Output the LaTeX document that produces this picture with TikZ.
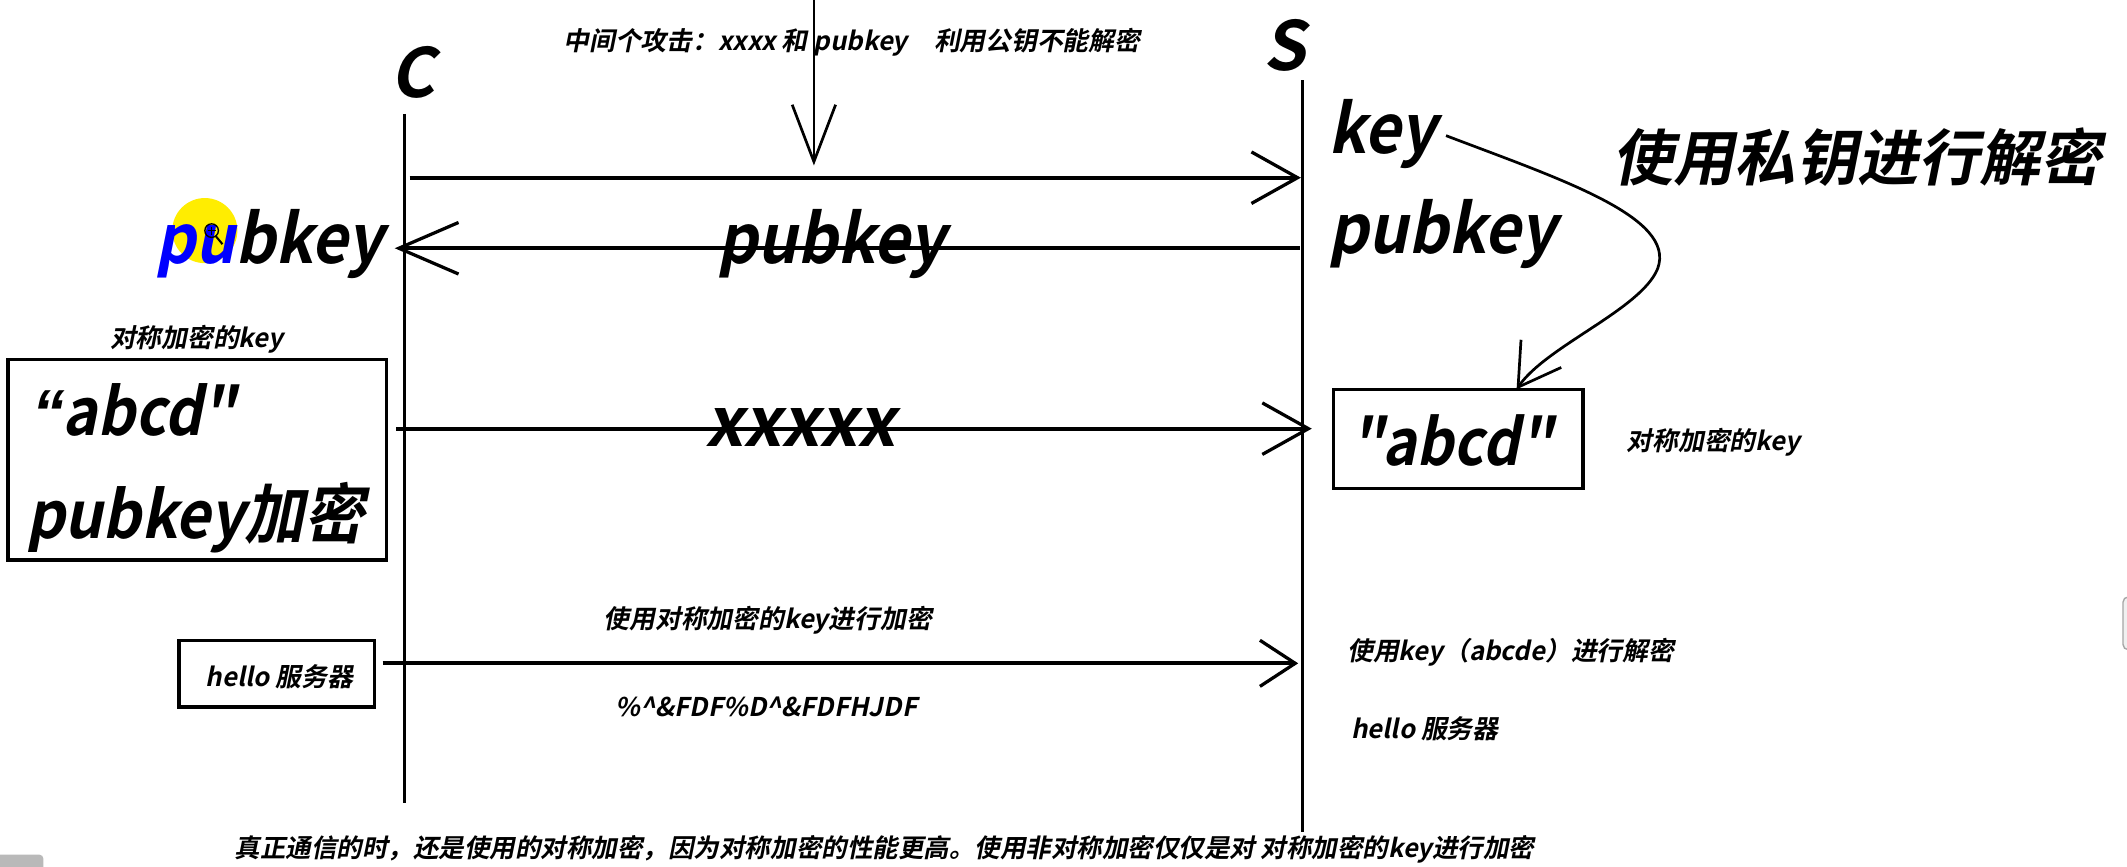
\documentclass[tikz,border=0pt]{standalone}
\usepackage{fontspec}
\setmainfont{Noto Sans CJK SC}[UprightFont=* Bold, FakeSlant=0.2]
\newfontfamily\narrowfont{Noto Sans CJK SC}[UprightFont=* Bold, FakeSlant=0.2, FakeStretch=0.92]
\newfontfamily\quotefont{Noto Sans CJK SC}[UprightFont=* Bold, FakeSlant=0.2, FakeStretch=0.9, Ligatures=TeXOff]
\newfontfamily\latinquote{Liberation Sans}
\usetikzlibrary{arrows.meta}
\tikzset{
  life/.style={line width=2.2pt},
  msg/.style={line width=3pt, -{Straight Barb[length=34pt,width=38pt,line width=2.4pt]}},
  boxed/.style={draw, line width=2.6pt, inner sep=0pt},
  smalltxt/.style={font=\fontsize{19}{22}\selectfont, inner sep=0pt},
  bigtxt/.style={font=\narrowfont\fontsize{50}{56}\selectfont, inner sep=0pt},
  lettertxt/.style={font=\fontsize{50}{56}\selectfont, inner sep=0pt},
  boxtxt/.style={font=\quotefont\fontsize{48}{54}\selectfont, inner sep=0pt},
}
\begin{document}
\begin{tikzpicture}[x=1pt,y=-1pt]
\useasboundingbox (0,0) rectangle (1568,639);
\fill[white] (0,0) rectangle (1568,639);

% screenshot artefacts
\fill[gray!55, rounded corners=3pt] (-6,630) rectangle (32,646);
\filldraw[fill=gray!12, draw=gray!70, line width=1pt, rounded corners=4pt] (1565,440) rectangle (1580,479);

% participants
\node[lettertxt, anchor=base] (C) at (304,72) {C};
\node[lettertxt, anchor=base] (S) at (947,52) {S};
\coordinate (Ctop) at (298,84); \coordinate (Cbot) at (298,592);
\coordinate (Stop) at (960,59); \coordinate (Sbot) at (960,613);
\draw[life] (Ctop) -- (Cbot);
\draw[life] (Stop) -- (Sbot);

% top attack note
\node[smalltxt, anchor=base] (attack) at (628,37) {中间个攻击：xxxx 和 pubkey\hspace{0.8em} 利用公钥不能解密};
\coordinate (atk0) at (600,-2); \coordinate (atk1) at (600,122);
\draw[line width=2pt, -{Straight Barb[length=42pt,width=32pt,line width=2pt]}] (atk0) -- (atk1);

% message 1: C -> S
\coordinate (m1a) at (302,131); \coordinate (m1b) at (959,131);
\draw[msg] (m1a) -- (m1b);

% message 2: S -> C pubkey
\coordinate (m2a) at (958,183); \coordinate (m2b) at (291,183);
\draw[line width=3pt, -{Straight Barb[length=44pt,width=38pt,line width=2.4pt]}] (m2a) -- (m2b);
\node[bigtxt, anchor=base] (pkmid) at (613,194) {pubkey};

% left pubkey with highlight
\fill[yellow!95!orange] (151,170) circle (24);
\node[bigtxt, anchor=base east] (pkleft) at (283,194) {{\color{blue}pu}bkey};
\draw[line width=1pt] (156,170) circle (5);
\draw[line width=1pt] (153,170) -- (159,170) (156,167) -- (156,173);
\draw[line width=1.5pt] (159,174) -- (164,180);

% server side keys
\node[bigtxt, anchor=base west] (key) at (979,113) {key};
\node[bigtxt, anchor=base west] (pkright) at (979,187) {pubkey};
\node[font=\fontsize{45}{50}\selectfont, inner sep=0pt] (decrypt) at (1369,116) {使用私钥进行解密};

% right box
\node[boxed, minimum width=184pt, minimum height=73pt] (rbox) at (1075,323.5) {};
\node[font=\quotefont\fontsize{47}{52}\selectfont, inner sep=0pt, anchor=base west] (rabcd) at (995,343) {"abcd"};
\node[smalltxt, anchor=west] (rlabel) at (1199,326) {对称加密的key};

% curved arrow key -> box
\coordinate (kend) at (1066,100); \coordinate (btop) at (1118,287);
\draw[line width=2pt, -{Straight Barb[length=30pt,width=36pt,line width=2pt]}]
  (kend) .. controls (1150,132) and (1236,160) .. (1222,198)
         .. controls (1210,228) and (1140,255) .. (btop);

% left box
\node[smalltxt] (llabel) at (145,250) {对称加密的key};
\node[boxed, minimum width=279pt, minimum height=148pt] (lbox) at (145.5,339) {};
\node[boxtxt, anchor=base west] (labcd) at (24,321) {{\latinquote\bfseries\itshape “}\kern-2pt abcd"};
\node[boxtxt, font=\narrowfont\fontsize{48}{54}\selectfont, anchor=base west] (lenc) at (19,397) {pubkey加密};

% message 3
\coordinate (m3a) at (292,316); \coordinate (m3b) at (967,316);
\draw[msg] (m3a) -- (m3b);
\node[lettertxt, anchor=base] (xx) at (590,329) {xxxxx};

% message 4
\node[boxed, minimum width=144pt, minimum height=49pt] (hbox) at (204,496.5) {};
\node[smalltxt] (hello) at (206,499) {hello 服务器};
\coordinate (m4a) at (282,489); \coordinate (m4b) at (957,489);
\draw[line width=3pt, -{Straight Barb[length=26pt,width=34pt,line width=2.4pt]}] (m4a) -- (m4b);
\node[smalltxt] (symenc) at (566,457) {使用对称加密的key进行加密};
\node[smalltxt] (cipher) at (565,521) {\%\textasciicircum\&FDF\%D\textasciicircum\&FDFHJDF};

\node[smalltxt, anchor=west] (sdec) at (993,481) {使用key（abcde）进行解密};
\node[smalltxt, anchor=west] (shello) at (996,537) {hello 服务器};

% bottom note
\node[smalltxt, font=\fontsize{18.8}{22}\selectfont, anchor=west] (note) at (173,626) {真正通信的时，还是使用的对称加密，因为对称加密的性能更高。使用非对称加密仅仅是对 对称加密的key进行加密};
\end{tikzpicture}
\end{document}
